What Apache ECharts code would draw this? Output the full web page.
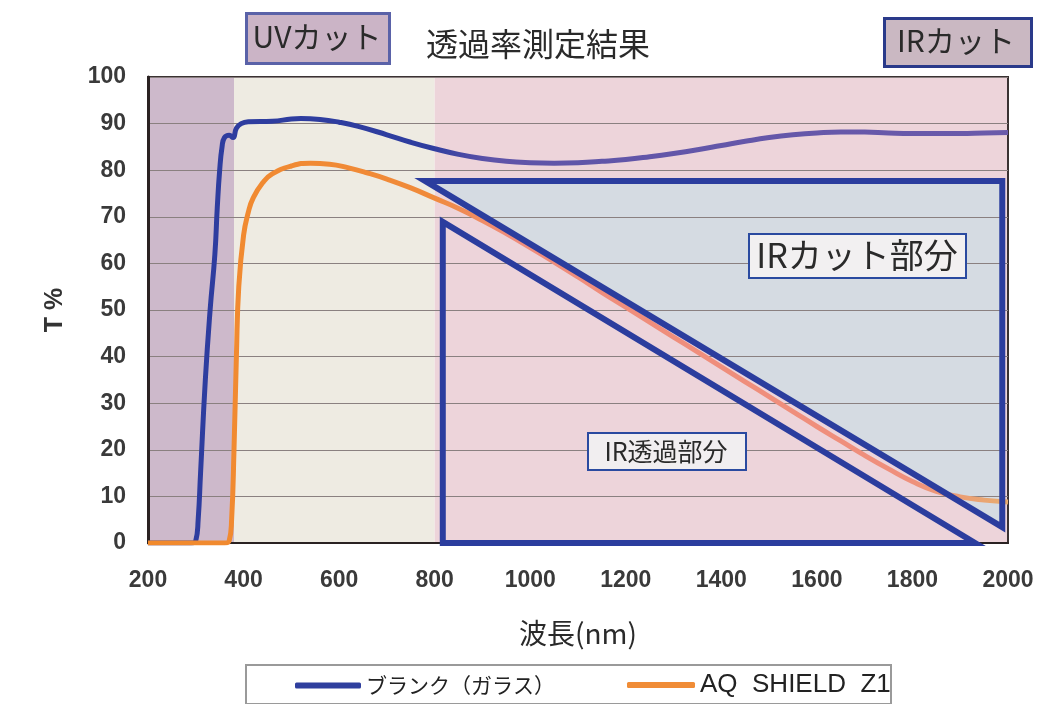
<!DOCTYPE html>
<html><head><meta charset="utf-8">
<script src="https://cdn.jsdelivr.net/npm/echarts@6/dist/echarts.min.js"></script>
<style>html,body{margin:0;padding:0;background:#fff}#c{width:1042px;height:704px}</style>
</head><body><div id="c"></div>
<script>
// ---- data ----
const blankWl = [200,290,300,305,310,320,330,340,345,350,355,360,370,378,385,395,410,460,500,520,560,600,640,700,750,800,850,900,950,1000,1050,1100,1150,1200,1250,1300,1350,1400,1450,1500,1550,1600,1650,1700,1750,1800,1850,1900,1950,2000];
const blankT  = [0,0,0.5,5,15,35,50,62,72,80,85,87,87.5,87,89,90,90.4,90.5,91,91.1,90.9,90.3,89.4,87.6,86,84.6,83.4,82.5,81.9,81.6,81.5,81.6,81.9,82.3,82.9,83.6,84.4,85.3,86.2,87,87.6,88,88.2,88.2,88,87.9,87.9,87.9,88,88.1];
const aqWl = [200,300,360,370,375,380,385,390,400,410,420,440,460,500,540,580,620,660,700,750,800,850,900,950,1000,1050,1100,1150,1200,1250,1300,1350,1400,1450,1500,1550,1600,1650,1700,1750,1800,1850,1900,1950,2000];
const aqT  = [0,0,0,0.5,5,20,40,55,66,71,74,77.3,79.2,80.9,81.5,81.3,80.5,79.4,78.1,76.2,74,71.8,69.2,66.4,63.4,60.3,57.1,53.8,50.6,47.4,44.2,41,37.8,34.6,31.4,28.2,25,21.9,18.8,15.9,13.2,11.1,9.9,9.2,8.8];
const bandStart = [200,380,800];
const bandEnd   = [380,800,2000];
const irCutTri  = [[780,77.7],[1988,77.7],[1988,3.4]];
const irPassTri = [[817,68.9],[817,0],[1931,0]];
const xTicks = {min:200,max:2000,step:200};
const yTicks = {min:0,max:100,step:10};
const seriesNames = ['ブランク（ガラス）','AQ  SHIELD  Z1'];
// ---- chart ----
const bandColors = ['#cdb9cb','#eeebe2','#edd4da'];
const numFont = "'Liberation Sans Narrow','Arial Narrow','Liberation Sans',sans-serif";
const jpFont = "'Noto Sans CJK JP','Noto Sans',sans-serif";
const chart = echarts.init(document.getElementById('c'));
function pair(a,b){return a.map((v,i)=>[v,b[i]]);}
function label(x,y,txt,size){return {type:'text',x:x,y:y,z:11,style:{text:txt,font:size+"px 'Noto Sans CJK JP'",fill:'#2a2a2a',textAlign:'center',textVerticalAlign:'middle'}};}
chart.setOption({
  animation:false,
  backgroundColor:'#ffffff',
  grid:{left:148,right:34,top:77,bottom:161,show:true,borderColor:'#3a3232',borderWidth:2,z:2},
  xAxis:{type:'value',min:xTicks.min,max:xTicks.max,interval:xTicks.step,z:2,
    name:'波長(nm)',nameLocation:'middle',nameGap:76,
    nameTextStyle:{fontFamily:jpFont,fontSize:28,color:'#2a2a2a'},
    axisLine:{show:true,lineStyle:{color:'#2a2222',width:2}},
    axisTick:{show:false},splitLine:{show:false},
    axisLabel:{margin:26,fontFamily:numFont,fontSize:23,fontWeight:'bold',color:'#3a3a3a',formatter:v=>String(v)}},
  yAxis:{type:'value',min:yTicks.min,max:yTicks.max,interval:yTicks.step,z:2,
    name:'T %',nameLocation:'middle',nameGap:80,nameRotate:90,
    nameTextStyle:{fontFamily:numFont,fontSize:25,fontWeight:'bold',color:'#333'},
    axisLine:{show:true,lineStyle:{color:'#2a2222',width:3}},
    axisTick:{show:false},
    splitLine:{show:true,lineStyle:{color:'#8a8080',width:1}},
    axisLabel:{margin:22,fontFamily:numFont,fontSize:23,fontWeight:'bold',color:'#3a3a3a',formatter:v=>String(v)}},
  legend:[
    {data:[{name:seriesNames[0],itemStyle:{color:'#2f3f9e'}}],left:290,top:670,icon:'roundRect',itemWidth:66,itemHeight:6,itemGap:8,
     textStyle:{fontFamily:jpFont,fontSize:21,color:'#222'}},
    {data:[{name:seriesNames[1],itemStyle:{color:'#f08c36'}}],left:622,top:667,icon:'roundRect',itemWidth:68,itemHeight:6,itemGap:8,
     textStyle:{fontFamily:numFont,fontSize:26,color:'#222'}}
  ],
  graphic:[
    {type:'rect',left:245,top:664,shape:{width:645,height:39},style:{fill:'#fff',stroke:'#9a9a9a',lineWidth:2},z:0},
    {type:'rect',left:245,top:12,shape:{width:143,height:50},style:{fill:'#cbb4c6',stroke:'#5a62a8',lineWidth:3},z:5},
    label(317,37,'UVカット',30),
    label(538,44,'透過率測定結果',32),
    {type:'rect',left:883,top:17,shape:{width:147,height:48},style:{fill:'#cab8c2',stroke:'#2a3a8a',lineWidth:3},z:5},
    label(956,41,'IRカット',30),
    {type:'rect',left:748,top:233,shape:{width:217,height:44},style:{fill:'#f2f0f1',stroke:'#2a4aa0',lineWidth:2},z:10},
    label(857,255,'IRカット部分',34),
    {type:'rect',left:587,top:432,shape:{width:158,height:37},style:{fill:'#f1eef0',stroke:'#2a4aa0',lineWidth:2},z:10},
    label(666,451,'IR透過部分',25)
  ],
  series:[
    {type:'custom',name:'bands',z:1,silent:true,data:bandStart.map((s,i)=>[s,bandEnd[i],i]),
     renderItem:(p,api)=>{const a=api.coord([api.value(0),100]);const b=api.coord([api.value(1),0]);
       return {type:'rect',shape:{x:a[0],y:a[1],width:b[0]-a[0],height:b[1]-a[1]},style:{fill:bandColors[api.value(2)]}};}},
    {type:'custom',name:'triFill',z:1.5,silent:true,data:[0],clip:false,
     renderItem:(p,api)=>({type:'polygon',shape:{points:irCutTri.map(q=>api.coord(q))},style:{fill:'#d5dbe2'}})},
    {type:'line',name:seriesNames[0],z:3,data:pair(blankWl,blankT),showSymbol:false,symbol:'none',smooth:0.5,
     itemStyle:{color:'#2f3f9e'},
     lineStyle:{width:5,color:new echarts.graphic.LinearGradient(0,0,1,0,[{offset:0,color:'#2e3d9f'},{offset:0.33,color:'#2e3d9f'},{offset:0.4,color:'#5e54a8'},{offset:1,color:'#6a5aaa'}])}},
    {type:'line',name:seriesNames[1],z:3,data:pair(aqWl,aqT),showSymbol:false,symbol:'none',smooth:0.5,
     itemStyle:{color:'#f08c36'},
     lineStyle:{width:5,color:new echarts.graphic.LinearGradient(0,0,1,0,[{offset:0,color:'#f18a2c'},{offset:0.33,color:'#f08a3a'},{offset:0.42,color:'#ef8d7c'},{offset:0.88,color:'#ef8f7c'},{offset:1,color:'#e8ad6e'}])}},
    {type:'custom',name:'triBorders',z:4,silent:true,data:[0],clip:false,
     renderItem:(p,api)=>({type:'group',children:[
       {type:'polygon',shape:{points:irCutTri.map(q=>api.coord(q))},style:{fill:'none',stroke:'#2b3d9e',lineWidth:6,lineJoin:'miter',miterLimit:30}},
       {type:'polygon',shape:{points:irPassTri.map(q=>api.coord(q))},style:{fill:'none',stroke:'#2b3d9e',lineWidth:6,lineJoin:'miter',miterLimit:30}}
     ]})}
  ]
});
</script></body></html>
